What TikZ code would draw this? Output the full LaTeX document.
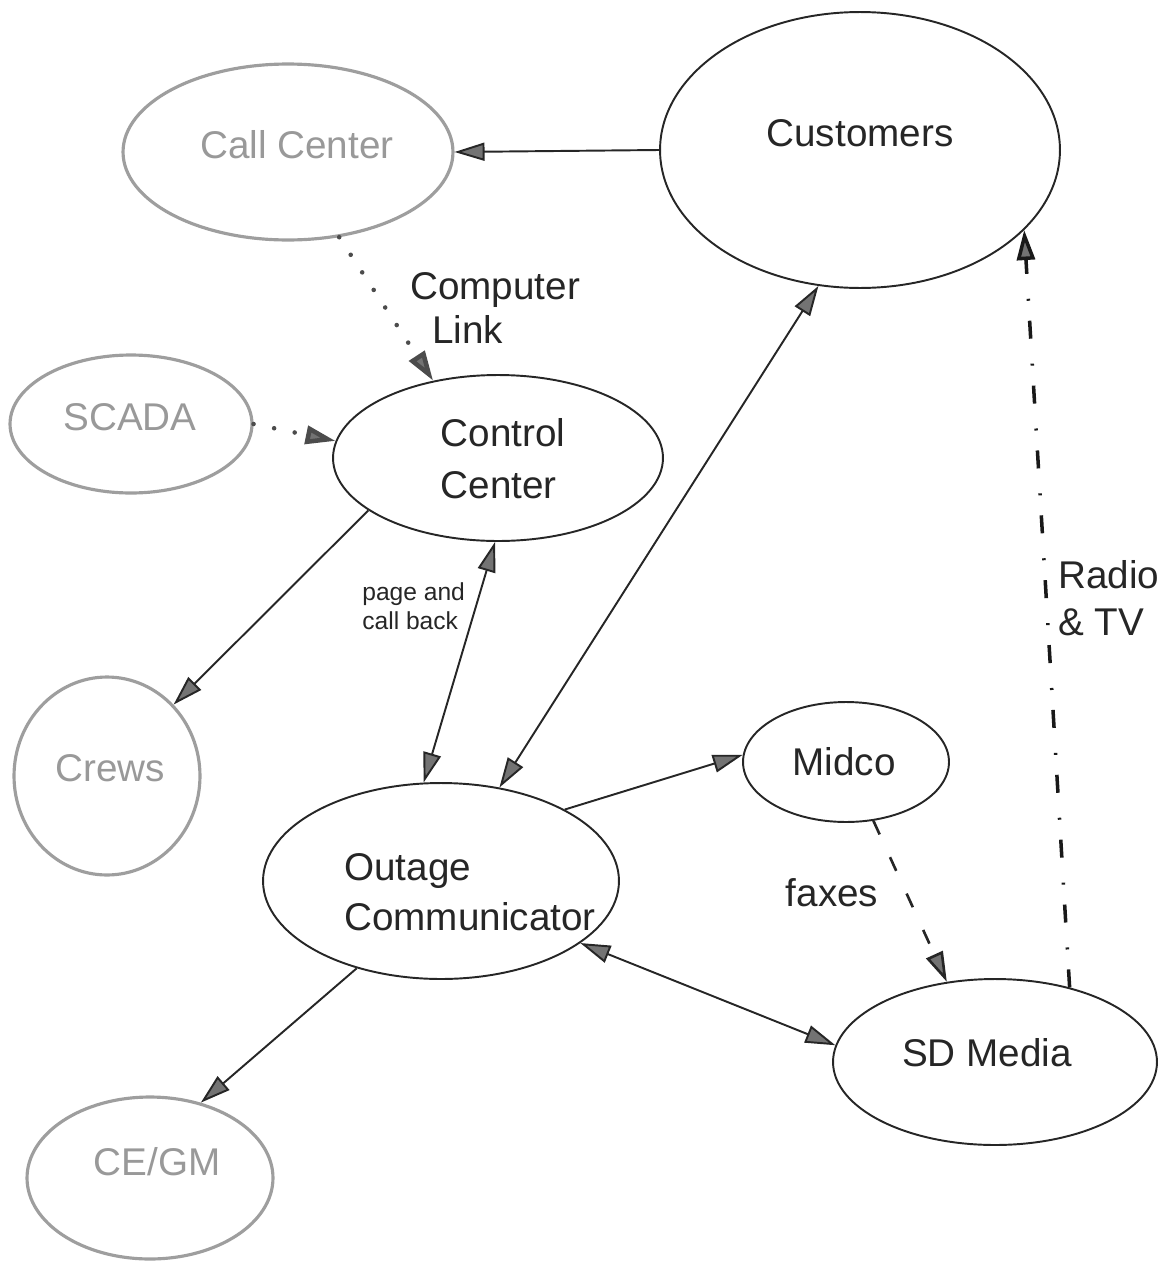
\documentclass[tikz,border=0pt]{standalone}
\usepackage{fontspec}
\setmainfont{Liberation Sans}
\usetikzlibrary{shapes.geometric,arrows.meta}
\tikzset{
  mytri/.tip={Triangle[length=0.6cm,width=0.36cm,fill=black!55]}
}
\begin{document}
\begin{tikzpicture}[x=0.02cm,y=-0.02cm,
  ell/.style={ellipse, draw=black!85, line width=1.1pt, inner sep=0pt},
  gell/.style={ellipse, draw=black!38, line width=1.8pt, inner sep=0pt},
  lbl/.style={font=\fontsize{22}{29}\selectfont, text=black!85, inner sep=0pt, align=left},
  glbl/.style={lbl, text=black!40},
  conn/.style={draw=black!85, line width=1.1pt},
  dotline/.style={draw=black!70, line width=2.6pt, line cap=round, dash pattern=on 0cm off 0.42cm},
  faxline/.style={draw=black!85, line width=1.5pt, dash pattern=on 0.3cm off 0.5cm},
  radioline/.style={draw=black!90, line width=2pt, dash pattern=on 0.36cm off 0.4cm on 0.04cm off 0.5cm}
]
\useasboundingbox (0,0) rectangle (1167,1268);

% ellipses
\node[gell, minimum width=6.6cm, minimum height=3.52cm] (call) at (288,152) {};
\node[ell, minimum width=8cm, minimum height=5.52cm] (cust) at (860,150) {};
\node[gell, minimum width=4.84cm, minimum height=2.76cm] (scada) at (131,424) {};
\node[ell, minimum width=6.6cm, minimum height=3.32cm] (ctrl) at (498,458) {};
\node[gell, minimum width=3.72cm, minimum height=3.96cm] (crews) at (107,776) {};
\node[ell, minimum width=7.12cm, minimum height=3.92cm] (out) at (441,881) {};
\node[ell, minimum width=4.12cm, minimum height=2.4cm] (midco) at (846,762) {};
\node[ell, minimum width=6.48cm, minimum height=3.32cm] (sd) at (995,1062) {};
\node[gell, minimum width=4.92cm, minimum height=3.24cm] (cegm) at (150,1178) {};

% ellipse texts
\node[glbl] (callT) at (297,145) {Call Center};
\node[lbl] (custT) at (860,133) {Customers};
\node[glbl] (scadaT) at (130,417) {SCADA};
\node[lbl, font=\fontsize{22}{29.5}\selectfont] (ctrlT) at (503,459) {Control\\Center};
\node[glbl] (crewsT) at (110,768) {Crews};
\node[lbl, font=\fontsize{22}{28.3}\selectfont] (outT) at (470,892) {Outage\\Communicator};
\node[lbl] (midcoT) at (844,762) {Midco};
\node[lbl] (sdT) at (987,1053) {SD Media};
\node[glbl] (cegmT) at (157,1162) {CE/GM};

% connector labels
\node[lbl, anchor=west, font=\fontsize{22}{24.5}\selectfont] (compT) at (410,308) {Computer\\\hspace*{0.44cm}Link};
\node[lbl, anchor=west, font=\fontsize{14}{16.5}\selectfont] (pageT) at (362,606) {page and\\call back};
\node[lbl] (faxT) at (832,893) {faxes};
\node[lbl, anchor=west, font=\fontsize{22}{26.7}\selectfont] (radioT) at (1058,598) {Radio\\\& TV};

% connectors
\draw[conn, -mytri] (cust.west) -- (call.east);
\draw[dotline, -mytri] (call.-59) -- (ctrl.130);
\draw[dotline, -mytri] (scada.0) -- (ctrl.174);
\draw[conn, -mytri] (ctrl.202) -- (crews.47);
\draw[conn, mytri-mytri] (ctrl.268) -- (out.100);
\draw[conn, mytri-mytri] (cust.253) -- (out.58);
\draw[conn, -mytri] (out.30) -- (midco.176);
\draw[conn, mytri-mytri] (out.336) -- (sd.174);
\draw[conn, -mytri] (out.226) -- (cegm.56);
\draw[faxline, -mytri] (midco.295) -- (sd.121);
\draw[radioline, -mytri] (sd.45) -- (cust.334);
\end{tikzpicture}
\end{document}
